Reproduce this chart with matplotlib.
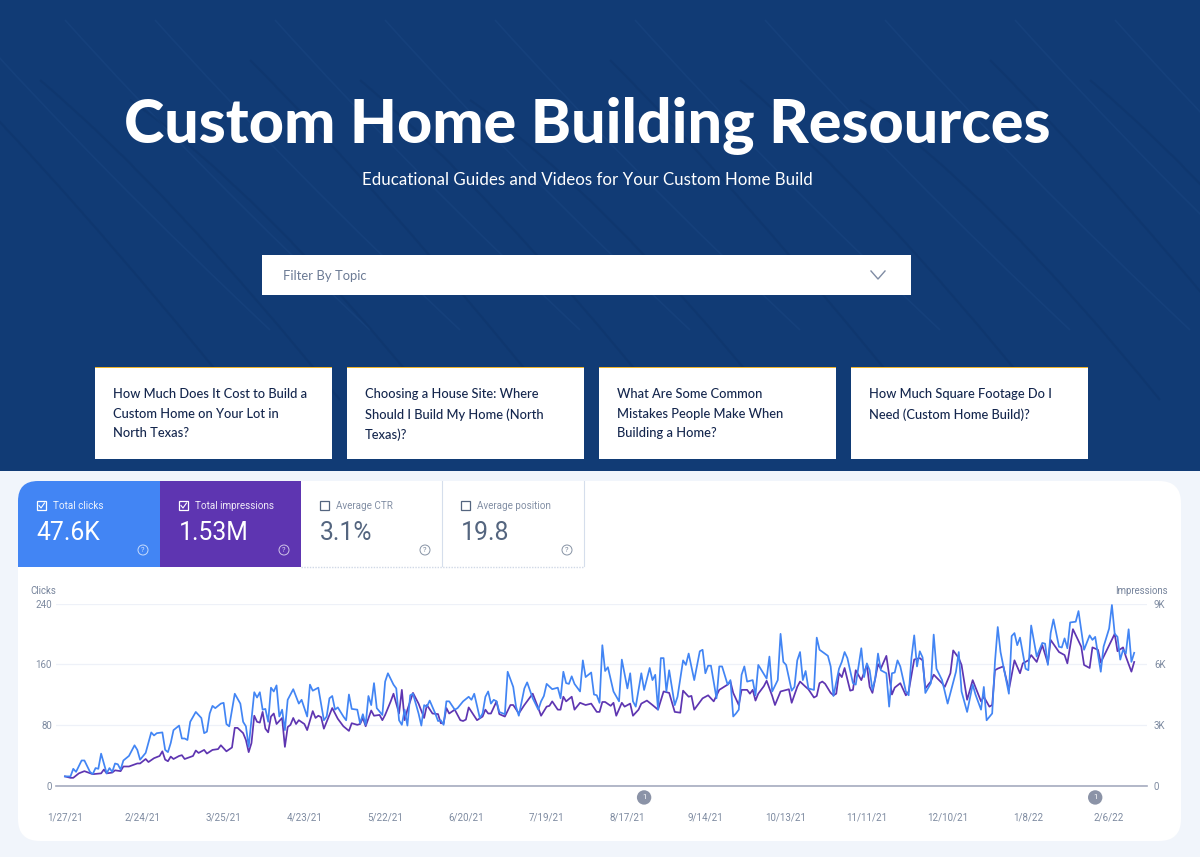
import datetime as dt
import matplotlib
matplotlib.use('Agg')
from matplotlib import pyplot as plt
from matplotlib.patches import Rectangle, Circle, PathPatch
from matplotlib.path import Path

W, H = 1200, 857

########################################################################
# Data
########################################################################

start_date = dt.date(2021, 1, 27)

tick_dates = ['1/27/21', '2/24/21', '3/25/21', '4/23/21', '5/22/21', '6/20/21', '7/19/21',
              '8/17/21', '9/14/21', '10/13/21', '11/11/21', '12/10/21', '1/8/22', '2/6/22']
tick_days = [0, 28, 57, 86, 115, 144, 173, 202, 230, 259, 288, 317, 346, 375]

clicks_ticks = [0, 80, 160, 240]
impressions_ticks = [0, 3000, 6000, 9000]
impressions_labels = ['0', '3K', '6K', '9K']

annotation_days = [208, 370]

clicks_days = [
    0, 2, 3, 4, 6, 7, 9, 10, 11, 12, 13, 15, 16, 17, 18, 19, 20, 21, 23, 25,
    26, 27, 29, 31, 32, 33, 35, 36, 37, 38, 39, 41, 42, 43, 44, 45, 47, 49, 50, 51,
    52, 53, 54, 56, 57, 58, 59, 61, 63, 64, 65, 66, 68, 69, 70, 71, 72, 73, 74, 75,
    76, 77, 78, 79, 80, 82, 84, 85, 87, 88, 89, 91, 93, 94, 95, 96, 97, 98, 100, 101,
    102, 103, 105, 106, 107, 108, 109, 110, 111, 112, 114, 115, 116, 118, 119, 120, 121, 122, 123, 124,
    125, 127, 128, 129, 130, 131, 133, 134, 135, 136, 137, 138, 140, 141, 143, 145, 146, 147, 149, 150,
    151, 152, 153, 154, 155, 156, 158, 159, 161, 162, 163, 165, 166, 168, 170, 171, 172, 173, 175, 177,
    178, 179, 180, 181, 182, 183, 185, 186, 187, 189, 190, 191, 192, 193, 194, 195, 197, 199, 200, 202,
    203, 204, 205, 207, 208, 210, 211, 212, 213, 214, 215, 216, 217, 219, 220, 222, 223, 224, 226, 228,
    229, 230, 231, 232, 234, 235, 236, 238, 239, 240, 241, 242, 243, 244, 245, 247, 248, 249, 252, 253,
    254, 256, 257, 258, 259, 261, 262, 263, 264, 265, 266, 267, 269, 270, 271, 274, 275, 276, 278, 279,
    280, 281, 283, 284, 286, 287, 288, 289, 290, 291, 292, 293, 295, 296, 297, 298, 299, 300, 302, 303,
    304, 305, 306, 307, 308, 309, 311, 312, 313, 315, 317, 320, 321, 322, 324, 326, 327, 329, 330, 331,
    333, 334, 335, 336, 339, 340, 341, 342, 343, 345, 346, 347, 349, 351, 352, 353, 354, 355, 357, 358,
    359, 360, 361, 363, 364, 365, 366, 368, 369, 370, 372, 373, 375, 376, 377, 378, 379, 380, 381, 382,
    383, 384]
clicks = [
    12, 12, 22, 18, 33, 33, 18, 15, 23, 22, 42, 16, 23, 18, 29, 28, 21, 33, 39, 53,
    47, 34, 43, 70, 66, 69, 70, 47, 44, 56, 73, 79, 62, 62, 60, 84, 97, 89, 69, 71,
    95, 105, 102, 108, 109, 81, 78, 121, 108, 84, 78, 51, 123, 116, 123, 100, 101, 84, 129, 124,
    132, 91, 100, 73, 113, 127, 108, 113, 91, 133, 125, 129, 86, 91, 115, 118, 100, 103, 91, 86,
    120, 101, 100, 82, 94, 80, 118, 106, 135, 102, 93, 137, 148, 133, 128, 86, 80, 100, 79, 119,
    121, 95, 79, 106, 104, 112, 95, 85, 86, 80, 111, 111, 100, 102, 111, 117, 113, 121, 89, 95,
    117, 124, 108, 113, 111, 97, 94, 150, 130, 104, 92, 128, 136, 115, 100, 111, 118, 134, 127, 129,
    115, 150, 135, 134, 144, 134, 124, 165, 143, 149, 120, 119, 109, 185, 151, 156, 124, 111, 166, 128,
    148, 111, 104, 148, 126, 155, 139, 146, 100, 168, 168, 124, 152, 106, 117, 165, 159, 174, 139, 177,
    179, 148, 158, 158, 115, 157, 157, 133, 139, 91, 95, 100, 146, 157, 137, 139, 119, 159, 141, 170,
    124, 139, 200, 163, 159, 125, 130, 165, 176, 139, 151, 128, 126, 195, 179, 171, 157, 118, 154, 163,
    176, 168, 135, 133, 181, 143, 161, 152, 126, 141, 174, 152, 148, 104, 148, 149, 165, 157, 124, 119,
    168, 198, 157, 177, 169, 122, 135, 199, 154, 139, 108, 150, 176, 124, 97, 133, 120, 100, 130, 86,
    95, 163, 209, 176, 121, 197, 201, 185, 195, 154, 152, 211, 170, 188, 187, 159, 201, 219, 183, 182,
    194, 181, 215, 216, 230, 205, 179, 198, 192, 196, 150, 183, 207, 238, 200, 196, 166, 179, 174, 206,
    163, 175]

impressions_days = [
    0, 2, 3, 5, 7, 10, 13, 14, 15, 17, 18, 20, 21, 23, 26, 27, 29, 30, 32, 34,
    35, 36, 37, 38, 39, 41, 42, 43, 46, 47, 48, 50, 51, 53, 55, 56, 58, 60, 61, 62,
    64, 65, 66, 67, 68, 69, 70, 71, 72, 73, 74, 75, 76, 78, 79, 80, 81, 82, 83, 84,
    86, 87, 89, 90, 91, 92, 93, 96, 98, 100, 102, 103, 105, 106, 107, 108, 110, 111, 113, 114,
    115, 117, 118, 120, 121, 122, 123, 125, 127, 129, 130, 132, 134, 135, 136, 137, 138, 140, 142, 143,
    144, 145, 148, 150, 151, 152, 153, 155, 156, 158, 160, 161, 163, 165, 168, 170, 171, 173, 174, 175,
    177, 178, 179, 180, 182, 183, 185, 187, 189, 191, 192, 193, 194, 196, 197, 198, 200, 201, 203, 204,
    206, 207, 209, 211, 213, 215, 217, 219, 221, 222, 224, 225, 226, 229, 231, 233, 235, 238, 239, 240,
    242, 243, 245, 246, 247, 248, 249, 251, 252, 254, 255, 257, 260, 261, 263, 264, 266, 267, 269, 270,
    271, 272, 273, 275, 276, 277, 278, 279, 280, 282, 283, 284, 286, 288, 289, 290, 292, 293, 295, 297,
    298, 300, 302, 303, 305, 307, 308, 309, 311, 312, 315, 316, 318, 319, 321, 322, 324, 326, 329, 330,
    332, 333, 334, 335, 337, 339, 341, 343, 344, 346, 347, 349, 351, 353, 354, 357, 359, 360, 362, 365,
    366, 368, 369, 371, 372, 377, 378, 380, 381, 383, 384]
impressions = [
    450, 380, 380, 600, 710, 560, 600, 790, 600, 640, 750, 710, 940, 940, 1090, 1090, 1310, 1160, 1350, 1460,
    1690, 1280, 1200, 1430, 1310, 1460, 1500, 1310, 1460, 1730, 1610, 1760, 1580, 1760, 1800, 1990, 1690, 1880, 2850, 2850,
    2590, 2250, 1650, 2100, 3450, 3150, 3110, 3640, 2810, 2630, 3410, 3560, 3040, 3340, 1910, 2890, 3000, 3340, 3040, 3230,
    3040, 2740, 3680, 3340, 3450, 3380, 2810, 3830, 3300, 2930, 2700, 3080, 3000, 3040, 3340, 2930, 3710, 3450, 3490, 3230,
    3490, 4160, 4540, 3560, 4730, 3230, 3750, 4580, 4050, 3340, 3980, 3560, 3530, 3080, 3080, 3830, 3560, 3750, 3230, 3190,
    3260, 3860, 3230, 3410, 3750, 3560, 3560, 4160, 3530, 3410, 3980, 3980, 3560, 3980, 4540, 3830, 3450, 3900, 3940, 4160,
    3750, 3750, 4390, 4160, 4390, 3750, 4090, 3980, 4050, 3640, 3640, 4130, 4130, 3940, 4090, 3450, 4090, 3900, 4050, 3450,
    3750, 4050, 4200, 3980, 3750, 4650, 4580, 3640, 3600, 4690, 4390, 4430, 3750, 4310, 4460, 4160, 4730, 4990, 5140, 4580,
    3980, 4730, 4730, 4540, 4730, 4200, 4540, 4910, 5180, 4430, 3980, 4650, 4760, 4090, 4880, 5140, 4880, 4760, 4350, 4430,
    5060, 5140, 5030, 4580, 4460, 4540, 5550, 5360, 5810, 4690, 4730, 5700, 5210, 5960, 4880, 4580, 6000, 5780, 6410, 4500,
    4840, 5060, 4460, 4650, 6230, 6300, 6190, 4800, 5150, 5480, 5060, 4880, 5550, 6680, 6300, 5960, 4240, 5210, 4160, 4390,
    3900, 3980, 5700, 5780, 5890, 4730, 6190, 5550, 6040, 6190, 6450, 6110, 6940, 6040, 7200, 6600, 6450, 6040, 7730, 6860,
    5960, 5810, 6830, 6710, 6080, 7500, 6640, 6830, 6380, 5630, 6110]

tile_titles = ['Total clicks', 'Total impressions', 'Average CTR', 'Average position']
tile_values = ['47.6K', '1.53M', '3.1%', '19.8']

card_texts = [
    'How Much Does It Cost to Build a\nCustom Home on Your Lot in\nNorth Texas?',
    'Choosing a House Site: Where\nShould I Build My Home (North\nTexas)?',
    'What Are Some Common\nMistakes People Make When\nBuilding a Home?',
    'How Much Square Footage Do I\nNeed (Custom Home Build)?',
]

########################################################################
# Page layer, in pixel coordinates
########################################################################

NAVY = '#113b75'
BLUE = '#4285f4'
PURPLE = '#5e35b1'

fig = plt.figure(figsize=(W / 100, H / 100), dpi=100, facecolor='#f1f5fb')
page = fig.add_axes([0, 0, 1, 1])
page.set_xlim(0, W)
page.set_ylim(H, 0)
page.axis('off')

def box(x, y, w, h, color, z=1, ec='none'):
    page.add_patch(Rectangle((x, y), w, h, fc=color, ec=ec, lw=0.8, zorder=z))

def rounded_path(x0, y0, x1, y1, tl=0, tr=0, br=0, bl=0):
    # corners drawn as quadratic curves, any radius can be 0
    verts = [(x0 + tl, y0), (x1 - tr, y0), (x1, y0), (x1, y0 + tr), (x1, y1 - br), (x1, y1),
             (x1 - br, y1), (x0 + bl, y1), (x0, y1), (x0, y1 - bl), (x0, y0 + tl), (x0, y0),
             (x0 + tl, y0), (x0 + tl, y0)]
    codes = [Path.MOVETO, Path.LINETO, Path.CURVE3, Path.CURVE3, Path.LINETO, Path.CURVE3,
             Path.CURVE3, Path.LINETO, Path.CURVE3, Path.CURVE3, Path.LINETO, Path.CURVE3,
             Path.CURVE3, Path.CLOSEPOLY]
    return Path(verts, codes)

# banner with faint diagonal plaster strokes
box(0, 0, W, 471, NAVY)
stroke_starts = [-60, 40, 130, 250, 360, 470, 610, 740, 860, 990, 1090]
for i, sx in enumerate(stroke_starts):
    path = Path([(sx, 60 + 20 * (i % 3)), (sx + 130, 190), (sx + 300, 400)],
                [Path.MOVETO, Path.CURVE3, Path.CURVE3])
    page.add_patch(PathPatch(path, fc='none', ec='#0d3369', lw=1.6, alpha=0.45, zorder=1.5))
    path = Path([(sx + 25, 20), (sx + 160, 170), (sx + 330, 330)],
                [Path.MOVETO, Path.CURVE3, Path.CURVE3])
    page.add_patch(PathPatch(path, fc='none', ec='#1a4682', lw=1.2, alpha=0.5, zorder=1.5))

page.text(587, 126, 'Custom Home Building Resources', color='white', family='Lato',
          weight='black', fontsize=43.9, ha='center', va='center', zorder=3)
page.text(587, 180, 'Educational Guides and Videos for Your Custom Home Build', color='white',
          family='Lato', fontsize=12.2, ha='center', va='center', zorder=3)

# filter box
box(262, 255, 649, 40, 'white', 2)
page.text(283, 275.5, 'Filter By Topic', color='#6b7a94', family='Lato', fontsize=9.4,
          ha='left', va='center', zorder=3)
page.plot([871, 878, 885], [271, 279, 271], color='#7f8ba3', lw=1.0, zorder=3)

# article cards
card_x = [95, 347, 599, 851]
for x, text in zip(card_x, card_texts):
    box(x, 367, 237, 92, 'white', 2)
    box(x, 367, 237, 1.4, '#f0b429', 3)
    page.text(x + 18, 388, text, color='#14264d', family='Lato', weight='medium', fontsize=9.3,
              ha='left', va='top', linespacing=1.77, zorder=4)

# white dashboard panel
page.add_patch(PathPatch(rounded_path(18, 481, 1181, 841, 22, 22, 22, 22), fc='white', ec='none', zorder=1))

# metric tiles
tile_x = [18, 160, 301, 442]
tile_w = [142, 141, 141, 142]
page.add_patch(PathPatch(rounded_path(18, 481, 160, 567, tl=20), fc=BLUE, ec='none', zorder=2))
box(160, 481, 141, 86, PURPLE, 2)
box(301, 481, 141, 86, 'white', 2)
box(442, 481, 142, 86, 'white', 2)
page.plot([442, 442], [481, 566], color='#d5deec', lw=0.8, zorder=3)
page.plot([584, 584], [481, 566], color='#d5deec', lw=0.8, zorder=3)
page.plot([301, 584], [566.5, 566.5], color='#d0d8e6', lw=1, ls=(0, (1, 1)), zorder=3)

for i in range(4):
    x = tile_x[i]
    fg = 'white' if i < 2 else '#54657f'
    # checkbox
    page.add_patch(Rectangle((x + 19, 501), 9, 9, fc='none', ec=fg, lw=0.9, zorder=4))
    if i < 2:
        page.plot([x + 21, x + 23, x + 26.5], [505.5, 508, 503], color=fg, lw=0.8, zorder=5)
    page.text(x + 35, 505.5, tile_titles[i], color=fg if i < 2 else '#75839b', family='Roboto',
              fontsize=7.1, ha='left', va='center', alpha=0.9, zorder=4)
    page.text(x + 18.5, 533, tile_values[i], color=fg, family='Roboto',
              fontsize=17.8, ha='left', va='center', zorder=4)
    # help mark
    page.add_patch(Circle((x + tile_w[i] - 17, 550), 5, fc='none', ec=fg, lw=0.7, alpha=0.7, zorder=4))
    page.text(x + tile_w[i] - 17, 550, '?', color=fg, family='Roboto', fontsize=5.5, alpha=0.8,
              ha='center', va='center', zorder=5)

########################################################################
# Chart, with its own scales
########################################################################

# axes box in pixels: left, right, top, bottom of the plot area
L, R, T, B = 56, 1147, 603.5, 785.5
ax = fig.add_axes([L / W, 1 - B / H, (R - L) / W, (B - T) / H])
ax.patch.set_alpha(0)
ax.set_xlim(-3.2, 388.6)
ax.set_ylim(0, 240)
ax.set_yticks(clicks_ticks)
ax.set_xticks(tick_days)
ax.set_xticklabels(tick_dates)
ax.tick_params(length=0, labelsize=7, labelcolor='#7d8aa0', labelfontfamily='Roboto')
ax.tick_params(axis='x', pad=19.5)
ax.tick_params(axis='y', pad=3)
for side in ['top', 'right', 'left']:
    ax.spines[side].set_visible(False)
ax.spines['bottom'].set_color('#a5abbf')
ax.spines['bottom'].set_linewidth(1.2)

ax2 = ax.twinx()
ax2.patch.set_alpha(0)
ax2.set_ylim(0, 9000)
ax2.set_yticks(impressions_ticks)
ax2.set_yticklabels(impressions_labels)
ax2.tick_params(length=0, labelsize=7, labelcolor='#7d8aa0', labelfontfamily='Roboto', pad=5)
ax2.grid(True, axis='y', color='#eef1f8', lw=0.9)
ax2.set_axisbelow(True)
for spine in ax2.spines.values():
    spine.set_visible(False)

ax2.plot(impressions_days, impressions, color=PURPLE, lw=1.25, solid_joinstyle='round', zorder=2)
ax2.set_zorder(1)
ax.set_zorder(2)
ax.plot(clicks_days, clicks, color=BLUE, lw=1.25, solid_joinstyle='round', zorder=3)

for d in annotation_days:
    ax.annotate('1', (d, 0), xytext=(0, -8.6), textcoords='offset points', color='white',
                family='Roboto', fontsize=5.5, ha='center', va='center', annotation_clip=False,
                bbox=dict(boxstyle='circle,pad=0.55', fc='#8b93a7', ec='none'))

page.text(30, 590.5, 'Clicks', color='#75839b', family='Roboto', fontsize=6.9, ha='left', va='center')
page.text(1168, 590.5, 'Impressions', color='#75839b', family='Roboto', fontsize=6.9, ha='right', va='center')

plt.savefig('out.png', dpi=100, facecolor=fig.get_facecolor())
